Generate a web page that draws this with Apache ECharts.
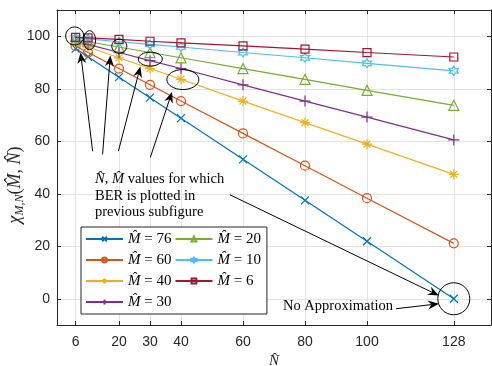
<!DOCTYPE html>
<html>
<head>
<meta charset="utf-8">
<script src="https://cdn.jsdelivr.net/npm/echarts@6/dist/echarts.min.js"></script>
<style>
  html, body { margin: 0; padding: 0; background: #ffffff; }
  #chart { width: 492px; height: 366px; }
</style>
</head>
<body>
<div id="chart"></div>
<script>
// Number of selected subcarriers N-hat on the x axis
const nValues = [6, 10, 20, 30, 40, 60, 80, 100, 128];
// M-hat of each curve
const mValues = [76, 60, 40, 30, 20, 10, 6];
// chi_{M,N}(M-hat, N-hat) in percent, one array per M-hat
const chiM76 = [95.3, 92.2, 84.4, 76.6, 68.8, 53.1, 37.5, 21.9, 0];
const chiM60 = [96.3, 93.8, 87.7, 81.5, 75.3, 63.0, 50.7, 38.3, 21.1];
const chiM40 = [97.5, 95.9, 91.8, 87.7, 83.6, 75.3, 67.1, 58.9, 47.4];
const chiM30 = [98.1, 96.9, 93.8, 90.7, 87.7, 81.5, 75.3, 69.2, 60.5];
const chiM20 = [98.8, 97.9, 95.9, 93.8, 91.8, 87.7, 83.6, 79.4, 73.7];
const chiM10 = [99.4, 99.0, 97.9, 96.9, 95.9, 93.8, 91.8, 89.7, 86.8];
const chiM6  = [99.6, 99.4, 98.8, 98.1, 97.5, 96.3, 95.1, 93.8, 92.1];
const chiSeries = [chiM76, chiM60, chiM40, chiM30, chiM20, chiM10, chiM6];
// Tick labels
const xTicks = [6, 20, 30, 40, 60, 80, 100, 128];
const yTicks = [0, 20, 40, 60, 80, 100];

// Look of each curve
const colors = ['#0072BD', '#D95319', '#EDB120', '#7E2F8E', '#77AC30', '#4DBEEE', '#A2142F'];
const symbols = [
  'path://M0,0L10,10M10,0L0,10',
  'circle',
  'path://M5,0L5,10M0,5L10,5M1.6,1.6L8.4,8.4M8.4,1.6L1.6,8.4',
  'path://M5,0L5,10M0,5L10,5',
  'triangle',
  'path://M5,0L6.44,2.5L9.33,2.5L7.89,5L9.33,7.5L6.44,7.5L5,10L3.56,7.5L0.67,7.5L2.11,5L0.67,2.5L3.56,2.5Z',
  'rect'
];
const symbolSizes = [8, 9, 10, 11, 10, 9, 8];

const SERIF = '"Liberation Serif", "DejaVu Serif", serif';
const SANS = '"Liberation Sans", Arial, sans-serif';
const AXIS_COLOR = '#262626';
const GRID_COLOR = '#e3e3e3';

const chart = echarts.init(document.getElementById('chart'), null, { renderer: 'canvas' });

const series = mValues.map((m, i) => ({
  name: String(m),
  type: 'line',
  xAxisIndex: 0,
  yAxisIndex: 0,
  data: nValues.map((n, j) => [n, chiSeries[i][j]]),
  symbol: symbols[i],
  symbolSize: symbolSizes[i],
  showSymbol: true,
  showAllSymbol: true,
  lineStyle: { color: colors[i], width: 1.2 },
  itemStyle: { color: 'none', borderColor: colors[i], borderWidth: 1.2 },
  emphasis: { disabled: true },
  animation: false,
  z: 2 + i
}));

const axisLineStyle = { show: true, onZero: false, lineStyle: { color: AXIS_COLOR, width: 1 } };

chart.setOption({
  animation: false,
  backgroundColor: '#ffffff',
  grid: { left: 57, right: 1, top: 10, bottom: 41, containLabel: false, outerBoundsMode: 'none' },
  xAxis: [
    {
      type: 'value', position: 'bottom', min: 0, max: 140,
      name: 'N\u0302', nameLocation: 'middle', nameGap: 29,
      nameTextStyle: { fontFamily: SERIF, fontStyle: 'italic', fontSize: 15, color: AXIS_COLOR },
      axisLine: axisLineStyle,
      axisTick: { show: true, inside: true, length: 4, customValues: xTicks, lineStyle: { color: AXIS_COLOR } },
      axisLabel: { customValues: xTicks, margin: 10, fontFamily: SANS, fontSize: 14, color: AXIS_COLOR },
      splitLine: { show: true, lineStyle: { color: GRID_COLOR, width: 1 } }
    },
    {
      type: 'value', position: 'top', min: 0, max: 140,
      axisLine: axisLineStyle,
      axisTick: { show: true, inside: true, length: 4, customValues: xTicks, lineStyle: { color: AXIS_COLOR } },
      axisLabel: { show: false },
      splitLine: { show: false }
    }
  ],
  yAxis: [
    {
      type: 'value', position: 'left', min: -10, max: 110,
      axisLine: axisLineStyle,
      axisTick: { show: true, inside: true, length: 4, customValues: yTicks, lineStyle: { color: AXIS_COLOR } },
      axisLabel: { customValues: yTicks, margin: 7, fontFamily: SANS, fontSize: 14, color: AXIS_COLOR },
      splitLine: { show: true, lineStyle: { color: GRID_COLOR, width: 1 } }
    },
    {
      type: 'value', position: 'right', min: -10, max: 110,
      axisLine: axisLineStyle,
      axisTick: { show: true, inside: true, length: 4, customValues: yTicks, lineStyle: { color: AXIS_COLOR } },
      axisLabel: { show: false },
      splitLine: { show: false }
    }
  ],
  legend: {
    orient: 'vertical',
    left: 81, top: 227, height: 84,
    padding: [3, 6, 3, 4],
    itemGap: 3,
    itemWidth: 37,
    itemHeight: 6,
    backgroundColor: '#ffffff',
    borderColor: AXIS_COLOR,
    borderWidth: 1,
    borderRadius: 0,
    selectedMode: false,
    data: mValues.map(String),
    formatter: name => '{m|M\u0302} = ' + name,
    textStyle: {
      fontFamily: SERIF, fontSize: 15, color: '#000000', lineHeight: 18,
      rich: { m: { fontFamily: SERIF, fontStyle: 'italic', fontSize: 15, lineHeight: 18 } }
    }
  },
  series: series
});

// Annotations placed in data coordinates
const ellipses = [
  { at: [5.7, 100.1], rx: 9, ry: 9 },
  { at: [10.5, 98.5], rx: 6, ry: 9.5 },
  { at: [20.1, 96.2], rx: 7.5, ry: 7 },
  { at: [30.1, 91.3], rx: 12, ry: 7 },
  { at: [40.6, 83.5], rx: 16, ry: 10 },
  { at: [128, 0], rx: 16, ry: 16 }
];
const arrows = [
  { from: [11.5, 56.2], to: [7.6, 93.8] },
  { from: [14.7, 55.0], to: [17.2, 92.7] },
  { from: [19.8, 56.2], to: [26.9, 88.5] },
  { from: [30.1, 53.8], to: [37.1, 78.8] },
  { from: [55.8, 39.6], to: [123.2, 1.2] },
  { from: [109.4, -3.8], to: [123.2, -1.9] }
];
const toPx = p => chart.convertToPixel({ gridIndex: 0 }, p);

const graphics = [];
ellipses.forEach(e => {
  const c = toPx(e.at);
  graphics.push({
    type: 'ellipse', shape: { cx: c[0], cy: c[1], rx: e.rx, ry: e.ry },
    style: { fill: 'none', stroke: '#000000', lineWidth: 1 }, z: 50
  });
});
arrows.forEach(a => {
  const p0 = toPx(a.from), p1 = toPx(a.to);
  const dx = p1[0] - p0[0], dy = p1[1] - p0[1];
  const len = Math.hypot(dx, dy);
  const ux = dx / len, uy = dy / len, nx = -uy, ny = ux;
  const L = 11, W = 4.5, notch = 3.5;
  const bx = p1[0] - L * ux, by = p1[1] - L * uy;
  const kx = p1[0] - (L - notch) * ux, ky = p1[1] - (L - notch) * uy;
  graphics.push({
    type: 'line', shape: { x1: p0[0], y1: p0[1], x2: kx, y2: ky },
    style: { stroke: '#000000', lineWidth: 1 }, z: 50
  });
  graphics.push({
    type: 'polygon',
    shape: { points: [[p1[0], p1[1]], [bx + W * nx, by + W * ny], [kx, ky], [bx - W * nx, by - W * ny]] },
    style: { fill: '#000000', stroke: 'none' }, z: 51
  });
});

// Note text
graphics.push({
  type: 'text', left: 95, top: 171, z: 52,
  style: {
    text: '{i|N\u0302}, {i|M\u0302} values for which\nBER is plotted in\nprevious subfigure',
    fontFamily: SERIF, fontSize: 14.5, lineHeight: 16.5, fill: '#000000',
    rich: { i: { fontFamily: SERIF, fontStyle: 'italic', fontSize: 14.5, lineHeight: 16.5 } }
  }
});
graphics.push({
  type: 'text', left: 283, top: 299, z: 52,
  style: { text: 'No Approximation', fontFamily: SERIF, fontSize: 14.5, fill: '#000000' }
});
// Y axis title
graphics.push({
  type: 'text', x: 15, y: 185, rotation: Math.PI / 2, z: 52,
  style: {
    text: '{c|\u03C7}{s|M,N}{u|(}{c|M\u0302}{u|, }{c|N\u0302}{u|)}',
    align: 'center', verticalAlign: 'middle', fill: AXIS_COLOR,
    rich: {
      c: { fontFamily: SERIF, fontStyle: 'italic', fontSize: 18, lineHeight: 22, fill: AXIS_COLOR },
      u: { fontFamily: SERIF, fontSize: 18, lineHeight: 22, fill: AXIS_COLOR },
      s: { fontFamily: SERIF, fontStyle: 'italic', fontSize: 12, lineHeight: 22, verticalAlign: 'bottom', fill: AXIS_COLOR }
    }
  }
});

chart.setOption({ graphic: graphics });
</script>
</body>
</html>
